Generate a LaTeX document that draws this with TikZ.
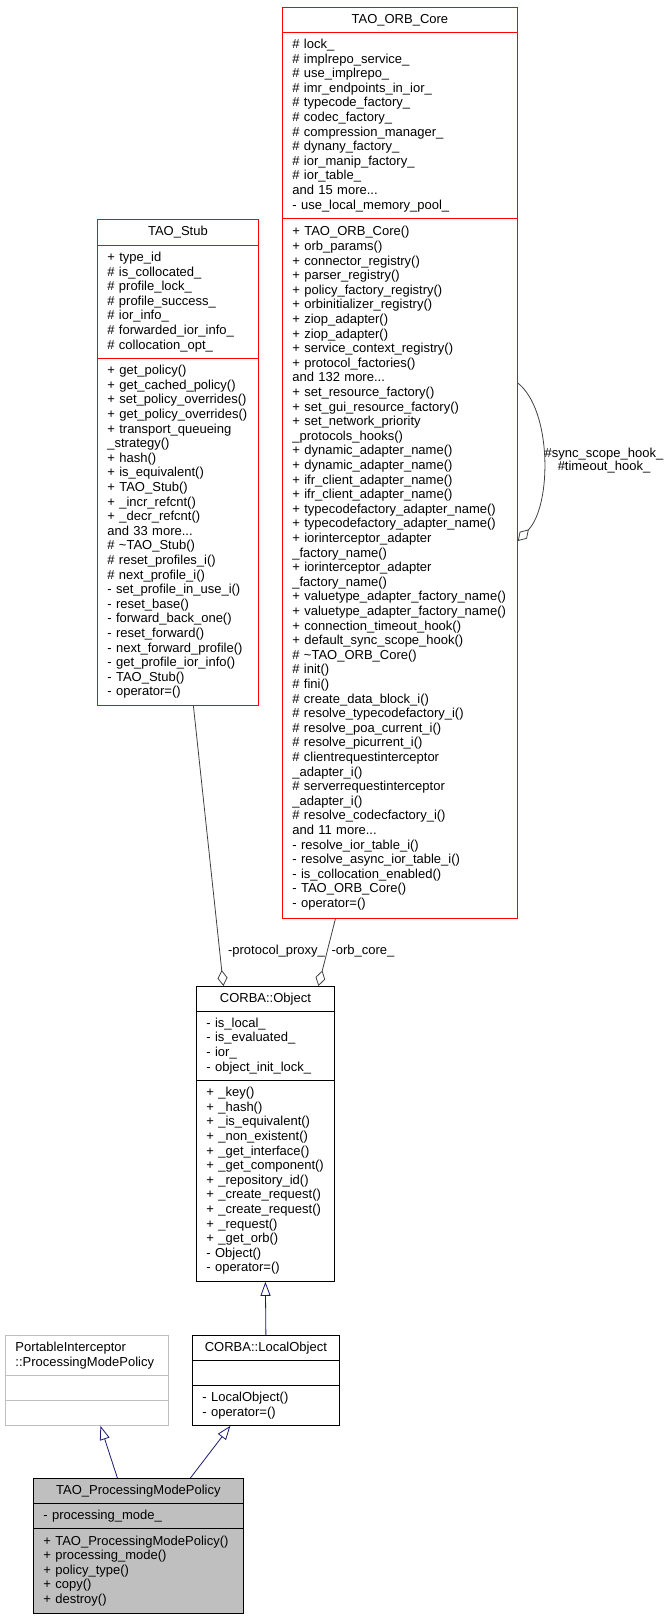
\documentclass[tikz,border=0pt]{standalone}
\usepackage{fontspec}
\setmainfont{Liberation Sans}
\usetikzlibrary{arrows.meta}

\definecolor{dxred}{HTML}{FF0000}
\definecolor{dxgray}{HTML}{BFBFBF}
\definecolor{dxnavy}{HTML}{191970}
\definecolor{dxedge}{HTML}{404040}
\newcommand{\dxfont}{\fontsize{13}{14.6}\selectfont}

\tikzset{
  sect/.style={draw=#1, anchor=north west, inner xsep=10pt, inner ysep=0pt,
    align=left, font=\dxfont, line width=0.8pt},
  sect/.default=black,
  ttl/.style={sect=#1, align=center},
  ttl/.default=black,
  inherit/.style={draw=dxnavy, line width=0.8pt, -{Triangle[open,length=14pt,width=10pt]}},
  aggr/.style={draw=dxedge, line width=0.8pt, {Diamond[open,length=16pt,width=10pt]}-},
  lbl/.style={font=\dxfont, inner sep=0pt, align=center}
}

\begin{document}
\begin{tikzpicture}[x=1pt, y=-1pt]
        \useasboundingbox (0,0) rectangle (671,1619);

        \begin{scope}[every node/.append style={text width=215pt}]
          \node[ttl=dxred, minimum height=25pt]  (orbT) at (282,7)   {TAO\_ORB\_Core};
          \node[sect=dxred, minimum height=186pt] (orbA) at (282,32) {\# lock\_\\\# implrepo\_service\_\\\# use\_implrepo\_\\\# imr\_endpoints\_in\_ior\_\\\# typecode\_factory\_\\\# codec\_factory\_\\\# compression\_manager\_\\\# dynany\_factory\_\\\# ior\_manip\_factory\_\\\# ior\_table\_\\and 15 more...\\- use\_local\_memory\_pool\_};
          \node[sect=dxred, minimum height=700pt] (orbM) at (282,218) {+ TAO\_ORB\_Core()\\+ orb\_params()\\+ connector\_registry()\\+ parser\_registry()\\+ policy\_factory\_registry()\\+ orbinitializer\_registry()\\+ ziop\_adapter()\\+ ziop\_adapter()\\+ service\_context\_registry()\\+ protocol\_factories()\\and 132 more...\\+ set\_resource\_factory()\\+ set\_gui\_resource\_factory()\\+ set\_network\_priority\\\_protocols\_hooks()\\+ dynamic\_adapter\_name()\\+ dynamic\_adapter\_name()\\+ ifr\_client\_adapter\_name()\\+ ifr\_client\_adapter\_name()\\+ typecodefactory\_adapter\_name()\\+ typecodefactory\_adapter\_name()\\+ iorinterceptor\_adapter\\\_factory\_name()\\+ iorinterceptor\_adapter\\\_factory\_name()\\+ valuetype\_adapter\_factory\_name()\\+ valuetype\_adapter\_factory\_name()\\+ connection\_timeout\_hook()\\+ default\_sync\_scope\_hook()\\\# \textasciitilde TAO\_ORB\_Core()\\\# init()\\\# fini()\\\# create\_data\_block\_i()\\\# resolve\_typecodefactory\_i()\\\# resolve\_poa\_current\_i()\\\# resolve\_picurrent\_i()\\\# clientrequestinterceptor\\\_adapter\_i()\\\# serverrequestinterceptor\\\_adapter\_i()\\\# resolve\_codecfactory\_i()\\and 11 more...\\- resolve\_ior\_table\_i()\\- resolve\_async\_ior\_table\_i()\\- is\_collocation\_enabled()\\- TAO\_ORB\_Core()\\- operator=()};
        \end{scope}

        \begin{scope}[every node/.append style={text width=141pt}]
          \node[ttl=dxred, minimum height=26pt]  (stubT) at (97,219) {TAO\_Stub};
          \node[sect=dxred, minimum height=113pt] (stubA) at (97,245) {+ type\_id\\\# is\_collocated\_\\\# profile\_lock\_\\\# profile\_success\_\\\# ior\_info\_\\\# forwarded\_ior\_info\_\\\# collocation\_opt\_};
          \node[sect=dxred, minimum height=347pt] (stubM) at (97,358) {+ get\_policy()\\+ get\_cached\_policy()\\+ set\_policy\_overrides()\\+ get\_policy\_overrides()\\+ transport\_queueing\\\_strategy()\\+ hash()\\+ is\_equivalent()\\+ TAO\_Stub()\\+ \_incr\_refcnt()\\+ \_decr\_refcnt()\\and 33 more...\\\# \textasciitilde TAO\_Stub()\\\# reset\_profiles\_i()\\\# next\_profile\_i()\\- set\_profile\_in\_use\_i()\\- reset\_base()\\- forward\_back\_one()\\- reset\_forward()\\- next\_forward\_profile()\\- get\_profile\_ior\_info()\\- TAO\_Stub()\\- operator=()};
        \end{scope}

        \begin{scope}[every node/.append style={text width=118pt}]
          \node[ttl, minimum height=25pt]  (objT) at (196,986)  {CORBA::Object};
          \node[sect, minimum height=69pt]  (objA) at (196,1011) {- is\_local\_\\- is\_evaluated\_\\- ior\_\\- object\_init\_lock\_};
          \node[sect, minimum height=201pt] (objM) at (196,1080) {+ \_key()\\+ \_hash()\\+ \_is\_equivalent()\\+ \_non\_existent()\\+ \_get\_interface()\\+ \_get\_component()\\+ \_repository\_id()\\+ \_create\_request()\\+ \_create\_request()\\+ \_request()\\+ \_get\_orb()\\- Object()\\- operator=()};
        \end{scope}

        \begin{scope}[every node/.append style={text width=127pt}]
          \node[ttl, minimum height=25pt]  (locT) at (192,1335) {CORBA::LocalObject};
          \node[sect, minimum height=25pt] (locA) at (192,1360) {};
          \node[sect, minimum height=40pt] (locM) at (192,1385) {- LocalObject()\\- operator=()};
        \end{scope}

        \begin{scope}[every node/.append style={text width=143pt}]
          \node[sect=dxgray, minimum height=40pt] (piT) at (5,1335) {PortableInterceptor\\::ProcessingModePolicy};
          \node[sect=dxgray, minimum height=25pt] (piA) at (5,1375) {};
          \node[sect=dxgray, minimum height=25pt] (piM) at (5,1400) {};
        \end{scope}

        \begin{scope}[every node/.append style={text width=190pt, fill=dxgray}]
          \node[ttl, minimum height=25pt]  (pmpT) at (33,1478) {TAO\_ProcessingModePolicy};
          \node[sect, minimum height=25pt] (pmpA) at (33,1503) {- processing\_mode\_};
          \node[sect, minimum height=85pt] (pmpM) at (33,1528) {+ TAO\_ProcessingModePolicy()\\+ processing\_mode()\\+ policy\_type()\\+ copy()\\+ destroy()};
        \end{scope}

        \draw[inherit] (locT.north) -- (objM.south);
        \draw[inherit] ([xshift=-21pt]pmpT.north) -- ([xshift=13.5pt]piM.south);
        \draw[inherit] ([xshift=52pt]pmpT.north) -- ([xshift=-35.5pt]locM.south);

        \draw[aggr] ([xshift=-42pt]objT.north) -- ([xshift=15.5pt]stubM.south);
        \draw[aggr] ([xshift=53pt]objT.north) -- ([xshift=-64.5pt]orbM.south);
        \draw[aggr] ([yshift=-323pt]orbM.north east) .. controls (552,505) and (552,410) .. ([yshift=-165pt]orbM.north east);

        \node[lbl] (lproxy) at (276.5,951) {-protocol\_proxy\_};
        \node[lbl] (lorb)   at (363,951)   {-orb\_core\_};
        \node[lbl, font=\fontsize{13}{13}\selectfont] (lhook) at (604,461) {\#sync\_scope\_hook\_\\\#timeout\_hook\_};

      \end{tikzpicture}
\end{document}
